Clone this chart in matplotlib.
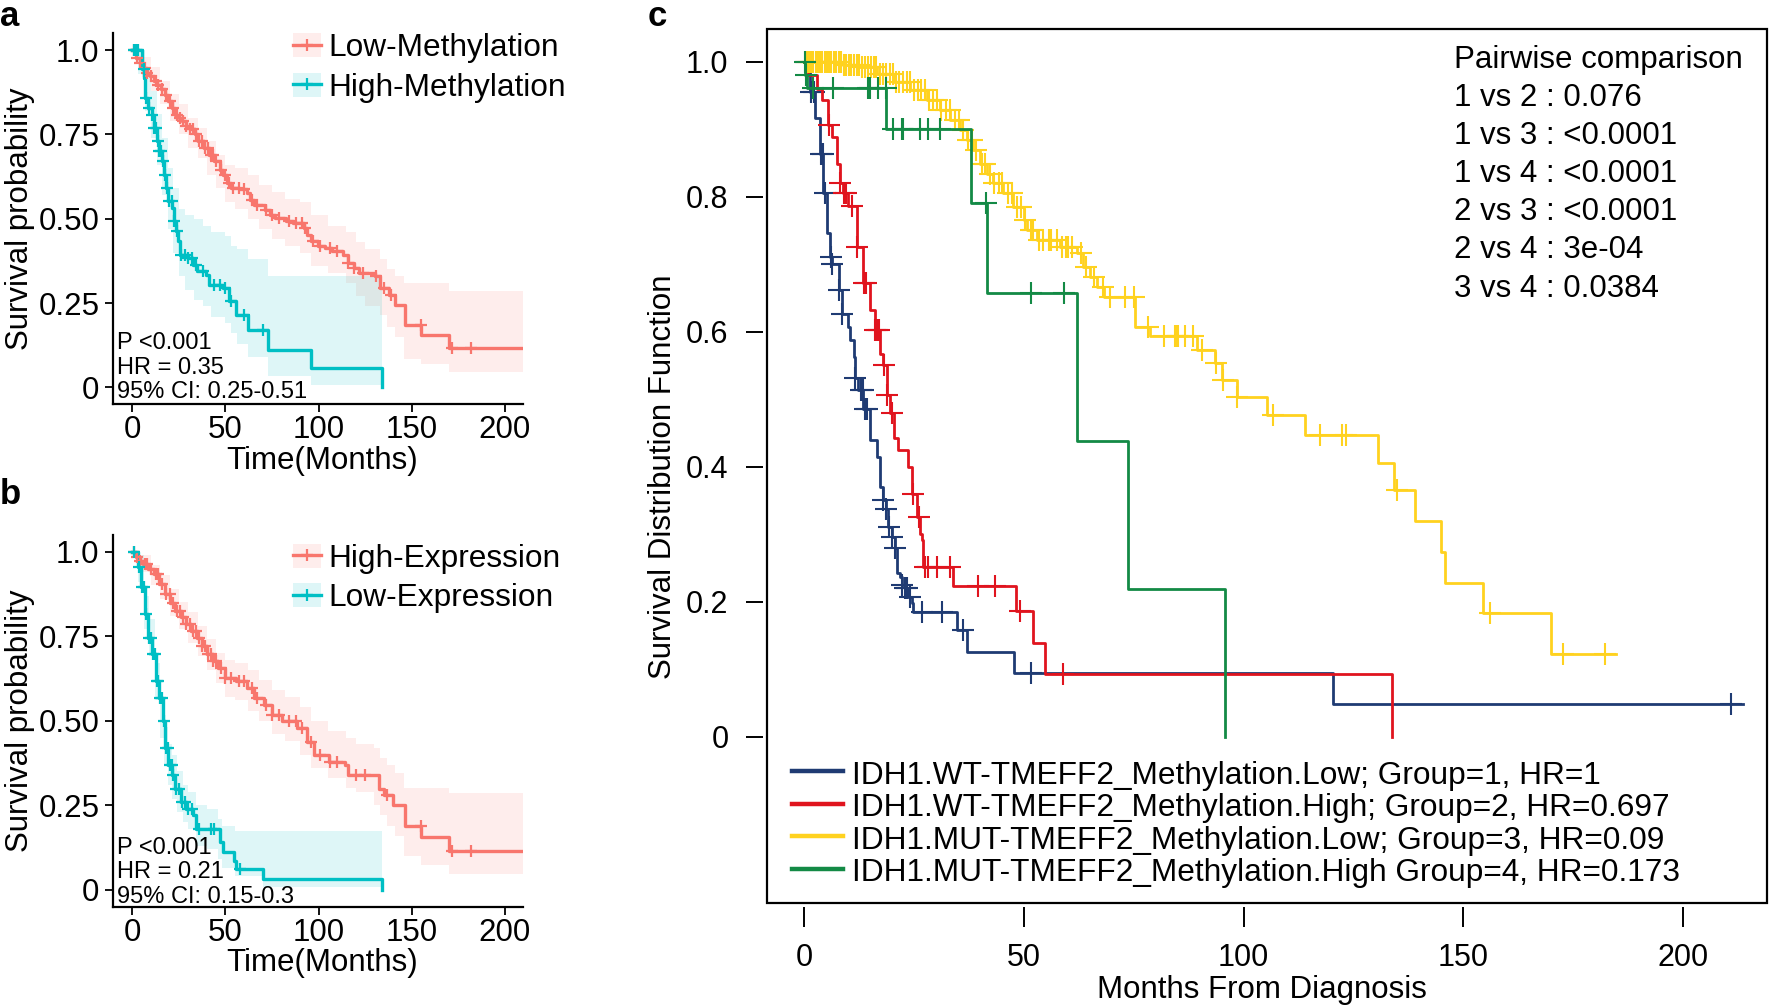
import numpy as np
import matplotlib
matplotlib.use("Agg")
import matplotlib.pyplot as plt
from matplotlib.patches import Patch, Rectangle
from matplotlib.lines import Line2D

plt.rcParams['font.family'] = ['Liberation Sans', 'DejaVu Sans']

# ---------------- data: panel a ----------------
a_labels = ["Low-Methylation", "High-Methylation"]
a_low_t = [0, 1.9, 3.8, 5.8, 7.7, 9.6, 11.5, 13.4, 15.3, 17.3, 19.2, 21.1, 23.0, 24.9, 26.8, 28.8, 30.7,
           33.6, 35.5, 38.4, 41.2, 44.1, 47.0, 48.9, 50.8, 52.7, 57.5, 61.4, 63.3, 65.2, 71.0, 73.8, 76.7,
           82.5, 86.3, 92.0, 94.0, 95.9, 99.7, 103.5, 107.4, 113.1, 116.0, 118.9, 121.8, 130.4, 133.3,
           138.1, 140.9, 146.7, 155.3, 170.3, 210]
a_low_s = [1, 0.977, 0.962, 0.948, 0.933, 0.923, 0.908, 0.898, 0.886, 0.868, 0.848, 0.828, 0.809, 0.799,
           0.789, 0.774, 0.765, 0.750, 0.730, 0.710, 0.690, 0.671, 0.646, 0.631, 0.606, 0.591, 0.587, 0.577,
           0.557, 0.542, 0.527, 0.512, 0.502, 0.493, 0.488, 0.473, 0.453, 0.433, 0.418, 0.413, 0.404, 0.394,
           0.369, 0.354, 0.339, 0.329, 0.295, 0.275, 0.245, 0.186, 0.156, 0.117, 0.117]
a_low_cens = [1, 2.5, 4, 6.5, 8, 10, 12.5, 14, 16, 18, 20, 22, 24, 25.5, 27, 29, 31, 32.5, 34, 36, 37.5,
              39, 40.5, 42, 43.5, 45, 47.5, 50, 52, 54, 57, 60, 64, 67, 72, 75, 79, 84, 88, 91, 93, 97,
              101, 106, 110, 116, 119, 124, 131, 135, 139, 155, 172, 182]
a_high_t = [0, 5.2, 6.1, 6.7, 8.6, 10.5, 11.5, 13.0, 14.4, 15.7, 16.9, 18.2, 19.2, 21.1, 22.4, 23.4, 24.5,
            25.5, 29.7, 32.6, 34.5, 39.3, 41.2, 48.9, 51.8, 55.6, 62.3, 72.9, 95.9, 134.2]
a_high_s = [1, 0.943, 0.918, 0.859, 0.829, 0.809, 0.769, 0.730, 0.700, 0.671, 0.631, 0.591, 0.552, 0.532,
            0.493, 0.463, 0.433, 0.394, 0.384, 0.364, 0.344, 0.334, 0.305, 0.295, 0.255, 0.216, 0.171,
            0.112, 0.057, 0.0]
a_high_cens = [1, 2, 3, 6, 7.5, 9, 10.5, 11.5, 12.5, 13.5, 14.5, 15.5, 16.5, 17.5, 18.5, 19.5, 21, 22.5,
               24, 26, 28, 30, 32, 34, 38, 44, 47, 50, 53, 60, 70]
a_band_low_t = [0, 5, 10, 15, 20, 25, 30, 35, 40, 45, 50, 55, 62, 68, 75, 82, 90, 96, 105, 115, 120, 125,
                133, 137, 141, 146, 155, 170, 210]
a_band_low_lo = [1.0, 0.92, 0.88, 0.84, 0.79, 0.75, 0.71, 0.68, 0.63, 0.59, 0.55, 0.53, 0.50, 0.47, 0.44,
                 0.42, 0.40, 0.36, 0.34, 0.31, 0.27, 0.24, 0.215, 0.18, 0.15, 0.085, 0.07, 0.047, 0.047]
a_band_low_hi = [1.0, 0.98, 0.95, 0.91, 0.87, 0.84, 0.80, 0.77, 0.73, 0.69, 0.66, 0.65, 0.63, 0.60, 0.58,
                 0.56, 0.55, 0.51, 0.48, 0.46, 0.43, 0.41, 0.38, 0.35, 0.33, 0.31, 0.31, 0.285, 0.285]
a_band_high_t = [0, 3, 7, 10, 13, 16, 19, 22, 25, 28, 33, 38, 42, 50, 53, 56, 62, 73, 96, 134.2]
a_band_high_lo = [1.0, 0.93, 0.82, 0.74, 0.66, 0.57, 0.47, 0.40, 0.33, 0.29, 0.26, 0.24, 0.21, 0.19,
                  0.16, 0.13, 0.09, 0.035, 0.008, 0.008]
a_band_high_hi = [1.0, 1.0, 0.93, 0.88, 0.81, 0.74, 0.65, 0.59, 0.53, 0.51, 0.50, 0.48, 0.46, 0.45,
                  0.42, 0.41, 0.38, 0.33, 0.33, 0.33]
a_stats = ["P <0.001", "HR = 0.35", "95% CI: 0.25-0.51"]

# ---------------- data: panel b ----------------
b_labels = ["High-Expression", "Low-Expression"]
b_high_t = [0, 1.9, 3.8, 5.8, 8.6, 11.5, 14.4, 17.3, 20.1, 23.0, 25.9, 28.8, 31.6, 34.5, 37.4, 40.3, 43.1,
            46.0, 49.9, 55.6, 61.4, 65.2, 70.9, 74.8, 80.5, 88.2, 94.0, 97.8, 105.5, 114.1, 116.0, 132.3,
            135.2, 140.0, 146.7, 155.3, 170.3, 210]
b_high_s = [1, 0.983, 0.973, 0.963, 0.948, 0.934, 0.904, 0.874, 0.849, 0.825, 0.805, 0.785, 0.765, 0.745,
            0.721, 0.696, 0.676, 0.656, 0.626, 0.616, 0.597, 0.567, 0.547, 0.517, 0.498, 0.478, 0.438,
            0.398, 0.379, 0.369, 0.339, 0.299, 0.279, 0.250, 0.190, 0.156, 0.116, 0.116]
b_high_cens = [1, 2.5, 4, 6.5, 8, 10, 12.5, 14, 16, 18, 20, 22, 24, 25.5, 27, 29, 31, 32.5, 34, 36, 37.5,
               39, 40.5, 42, 43.5, 45, 47.5, 50, 53, 57, 60, 64, 67, 72, 75, 79, 84, 88, 91, 96, 101,
               106, 110, 120, 125, 137, 155, 172, 182]
b_low_t = [0, 2.9, 4.8, 6.7, 8.6, 10.5, 12.5, 14.4, 16.3, 17.6, 19.2, 21.1, 23.0, 25.9, 28.8, 32.6, 34.1,
           47.0, 48.9, 54.6, 55.6, 70.0, 134.2]
b_low_s = [1, 0.953, 0.894, 0.815, 0.745, 0.696, 0.616, 0.567, 0.498, 0.418, 0.369, 0.339, 0.299, 0.260,
           0.240, 0.220, 0.180, 0.141, 0.111, 0.086, 0.061, 0.032, 0.0]
b_low_cens = [1, 3.5, 5, 6, 7.5, 9, 10, 11, 12, 13, 14, 15, 16, 17, 18, 19, 20, 21, 22, 23.5, 25, 26.5,
              28, 30, 32, 36, 42, 44, 58]
b_band_high_t = [0, 5, 10, 15, 20, 25, 30, 35, 40, 45, 50, 55, 62, 68, 75, 82, 90, 96, 105, 115, 120,
                 130, 133, 137, 141, 146, 155, 170, 210]
b_band_high_lo = [1.0, 0.94, 0.90, 0.86, 0.81, 0.77, 0.73, 0.69, 0.65, 0.61, 0.57, 0.56, 0.53, 0.50,
                  0.46, 0.44, 0.40, 0.36, 0.33, 0.30, 0.29, 0.25, 0.22, 0.19, 0.16, 0.10, 0.075, 0.047, 0.047]
b_band_high_hi = [1.0, 0.99, 0.96, 0.93, 0.89, 0.85, 0.82, 0.78, 0.74, 0.70, 0.68, 0.67, 0.65, 0.62,
                  0.59, 0.57, 0.54, 0.50, 0.47, 0.45, 0.43, 0.42, 0.39, 0.37, 0.345, 0.30, 0.30, 0.285, 0.285]
b_band_low_t = [0, 3, 6, 9, 12, 15, 17, 19, 21, 24, 27, 30, 34, 40, 46, 48, 55, 70, 134.2]
b_band_low_lo = [1.0, 0.91, 0.77, 0.69, 0.56, 0.45, 0.37, 0.31, 0.27, 0.23, 0.20, 0.18, 0.13, 0.12,
                 0.09, 0.065, 0.04, 0.008, 0.008]
b_band_low_hi = [1.0, 0.99, 0.87, 0.80, 0.67, 0.56, 0.48, 0.43, 0.40, 0.35, 0.31, 0.29, 0.25, 0.24,
                 0.21, 0.19, 0.175, 0.175, 0.175]
b_stats = ["P <0.001", "HR = 0.21", "95% CI: 0.15-0.3"]

# ---------------- data: panel c ----------------
c_labels = ["IDH1.WT-TMEFF2_Methylation.Low; Group=1, HR=1",
            "IDH1.WT-TMEFF2_Methylation.High; Group=2, HR=0.697",
            "IDH1.MUT-TMEFF2_Methylation.Low; Group=3, HR=0.09",
            "IDH1.MUT-TMEFF2_Methylation.High Group=4, HR=0.173"]
c1_t = [0, 1.3, 2.4, 3.6, 4.3, 5.1, 5.9, 6.2, 7.8, 8.5, 10.0, 10.4, 11.2, 11.5, 12.3, 13.4, 15.0, 16.5,
        17.2, 18.0, 18.6, 19.1, 19.9, 20.6, 21.0, 21.8, 22.2, 22.9, 23.7, 24.4, 24.7, 34.7, 37.0, 47.7,
        120.4, 213.7]
c1_s = [1, 0.955, 0.917, 0.864, 0.805, 0.746, 0.711, 0.701, 0.662, 0.627, 0.607, 0.588, 0.563, 0.531,
        0.514, 0.486, 0.44, 0.415, 0.37, 0.351, 0.338, 0.311, 0.296, 0.279, 0.242, 0.237, 0.225, 0.22,
        0.207, 0.198, 0.185, 0.158, 0.126, 0.095, 0.048, 0.048]
c1_cens = [1.5, 2.2, 3.8, 4.2, 4.6, 6.0, 6.3, 7.9, 8.6, 11.5, 12.8, 13.3, 13.8, 14.3, 18.0, 18.6, 19.3,
           19.9, 20.6, 22.2, 22.9, 23.4, 24.0, 26.7, 31.3, 36.2, 51.5, 211.0]
c2_t = [0, 0.9, 2.8, 4.0, 5.5, 6.2, 7.4, 8.1, 8.9, 10.0, 11.9, 13.4, 15.0, 16.1, 17.2, 18.0, 18.8, 19.5,
        20.3, 21.4, 23.7, 24.4, 25.6, 26.3, 26.7, 27.1, 33.8, 48.2, 52.0, 54.8, 133.7]
c2_s = [1, 0.98, 0.96, 0.943, 0.906, 0.889, 0.849, 0.82, 0.805, 0.787, 0.726, 0.672, 0.632, 0.602, 0.567,
        0.551, 0.506, 0.479, 0.442, 0.425, 0.40, 0.36, 0.326, 0.301, 0.291, 0.252, 0.223, 0.187, 0.139,
        0.093, 0.0]
c2_cens = [0.4, 5.6, 8.2, 9.0, 9.4, 10.8, 12.0, 13.5, 14.0, 16.2, 16.6, 17.0, 18.1, 18.9, 20.0, 24.8,
           26.1, 27.5, 28.2, 30.2, 33.2, 39.6, 43.3, 49.1, 58.8]
c3_t = [0, 8.9, 12.7, 16.5, 20.3, 24.1, 27.9, 30.9, 33.2, 35.4, 37.0, 38.5, 40.0, 41.5, 43.0, 45.3, 47.6,
        49.9, 50.6, 52.9, 58.2, 62.0, 63.5, 65.0, 66.6, 68.1, 75.3, 78.7, 89.3, 93.5, 95.0, 98.4, 105.2,
        114.0, 130.6, 134.2, 138.9, 145.0, 145.8, 154.5, 169.9, 184.8]
c3_s = [1.0, 0.995, 0.992, 0.982, 0.970, 0.958, 0.943, 0.928, 0.913, 0.899, 0.884, 0.869, 0.849, 0.834,
        0.820, 0.805, 0.785, 0.765, 0.751, 0.736, 0.726, 0.716, 0.696, 0.681, 0.667, 0.652, 0.607, 0.593,
        0.573, 0.553, 0.528, 0.504, 0.477, 0.447, 0.406, 0.365, 0.32, 0.274, 0.228, 0.183, 0.122, 0.122]
c3_cens = [0.5, 1.0, 1.5, 2.0, 2.6, 3.1, 3.5, 4.0, 4.6, 5.2, 5.7, 6.1, 6.8, 7.3, 7.9, 8.4, 9.0, 9.6,
           10.1, 10.7, 11.2, 11.9, 12.5, 13.2, 13.8, 14.5, 15.1, 15.8, 16.4, 17.2, 17.9, 18.6, 19.4, 20.1,
           20.9, 21.6, 22.4, 23.3, 24.0, 24.9, 25.8, 26.6, 27.5, 28.4, 29.4, 30.3, 31.2, 32.3, 33.1, 34.2,
           35.3, 36.1, 37.3, 38.2, 39.1, 40.4, 41.2, 42.3, 43.1, 44.2, 45.1, 46.3, 47.2, 48.5, 49.3, 50.2,
           51.5, 52.1, 53.4, 54.3, 55.6, 56.2, 57.4, 58.7, 59.5, 60.1, 61.0, 63.0, 64.2, 66.0, 68.0, 69.6,
           73.0, 75.1, 78.3, 81.9, 84.4, 84.8, 85.1, 86.6, 88.5, 90.4, 93.6, 95.4, 98.4, 106.7, 117.3,
           122.3, 123.3, 135.0, 156.0, 172.7, 182.3]
c4_t = [0, 0.1, 0.5, 18.7, 37.9, 41.5, 62.0, 73.6, 95.7]
c4_s = [1, 0.981, 0.961, 0.901, 0.790, 0.657, 0.438, 0.219, 0.0]
c4_cens = [0.05, 0.3, 2.0, 6.5, 14.4, 15.0, 16.8, 18.5, 20.1, 22.3, 22.5, 26.3, 28.2, 30.9, 41.4, 51.5, 59.0]
pairwise = ["Pairwise comparison", "1 vs 2 : 0.076", "1 vs 3 : <0.0001", "1 vs 4 : <0.0001",
            "2 vs 3 : <0.0001", "2 vs 4 : 3e-04", "3 vs 4 : 0.0384"]
c_colors = ["#1F3B73", "#E0141E", "#FFD21F", "#138A45"]

gg_red, gg_teal = "#F8766D", "#00BFC4"
band_alpha = 0.13

# ---------------- figure ----------------
W, H = 1770, 1006
fig = plt.figure(figsize=(W / 100, H / 100), dpi=100)


def fx(px):
    return px / W


def fy(py):
    return 1 - py / H


def axes_px(left, top, right, bottom):
    return fig.add_axes([fx(left), fy(bottom), (right - left) / W, (bottom - top) / H])


def surv_at(t, s, c):
    t = np.asarray(t)
    s = np.asarray(s)
    idx = np.searchsorted(t, c, side='right') - 1
    return s[np.clip(idx, 0, len(s) - 1)]


def gg_panel(top, bottom, curves, bands, labels, stats, stat_base, leg_top):
    ax = axes_px(112.9, top, 523.2, bottom)
    ax.set_xlim(-10.5, 210)
    ax.set_ylim(-0.05, 1.05)
    for (bt, lo, hi), col in zip(bands, [gg_red, gg_teal]):
        ax.fill_between(bt, lo, hi, step='post', color=col, alpha=band_alpha, lw=0, zorder=1)
    for (t, s, cens), col in zip(curves, [gg_red, gg_teal]):
        ax.step(t, s, where='post', color=col, lw=2.4, zorder=3)
        ax.plot(cens, surv_at(t, s, cens), ls='none', marker='+', ms=8, mew=1.6, color=col, zorder=4)
    for sp in ['top', 'right']:
        ax.spines[sp].set_visible(False)
    for sp in ['left', 'bottom']:
        ax.spines[sp].set_linewidth(1.6)
    ax.set_xticks([0, 50, 100, 150, 200])
    ax.set_yticks([0, 0.25, 0.5, 0.75, 1.0])
    ax.set_yticklabels(["0", "0.25", "0.50", "0.75", "1.0"])
    ax.tick_params(axis='both', length=5.8, width=1.3, labelsize=22.5, colors='black')
    ax.tick_params(axis='y', pad=4)
    ax.tick_params(axis='x', pad=2)
    ax.patch.set_alpha(0)
    handles = [(Patch(facecolor=col, alpha=band_alpha, lw=0),
                Line2D([], [], color=col, lw=2.4, marker='+', ms=8, mew=1.6)) for col in [gg_red, gg_teal]]
    ax.legend(handles, labels, loc='upper left', bbox_to_anchor=(fx(293.3), fy(leg_top)),
              bbox_transform=fig.transFigure, frameon=False, fontsize=22.8, handlelength=0.88,
              handleheight=0.79, handletextpad=0.24, labelspacing=0.3, borderpad=0, borderaxespad=0)
    for i, txt in enumerate(stats):
        fig.text(fx(117), fy(stat_base + i * 24.5), txt, fontsize=17, ha='left', va='baseline')
    fig.text(fx(19.6), fy((top + bottom) / 2), "Survival probability", rotation=90, fontsize=22.5,
             ha='center', va='center')
    return ax


gg_panel(33.3, 404.3,
         [(a_low_t, a_low_s, a_low_cens), (a_high_t, a_high_s, a_high_cens)],
         [(a_band_low_t, a_band_low_lo, a_band_low_hi), (a_band_high_t, a_band_high_lo, a_band_high_hi)],
         a_labels, a_stats, 349.3, 33)
fig.text(fx(322), fy(461), "Time(Months)", fontsize=22.5, ha='center', va='center')
fig.text(fx(0), fy(0.5), "a", fontsize=25, fontweight='bold', ha='left', va='top')

gg_panel(534.6, 906.8,
         [(b_high_t, b_high_s, b_high_cens), (b_low_t, b_low_s, b_low_cens)],
         [(b_band_high_t, b_band_high_lo, b_band_high_hi), (b_band_low_t, b_band_low_lo, b_band_low_hi)],
         b_labels, b_stats, 854, 543.5)
fig.text(fx(322), fy(963), "Time(Months)", fontsize=22.5, ha='center', va='center')
fig.text(fx(0), fy(503.5), "b", fontsize=25, fontweight='bold', ha='left', va='baseline')

# ---------------- panel c ----------------
axc = axes_px(767.4, 29.3, 1767, 903.3)
axc.set_xlim(-8.4, 219.1)
axc.set_ylim(-0.2466, 1.048)
for (t, s, cens), col in zip([(c1_t, c1_s, c1_cens), (c2_t, c2_s, c2_cens),
                              (c3_t, c3_s, c3_cens), (c4_t, c4_s, c4_cens)], c_colors):
    axc.step(t, s, where='post', color=col, lw=2.0, zorder=3)
    axc.plot(cens, surv_at(t, s, cens), ls='none', marker='+', ms=16.5, mew=1.5, color=col, zorder=3)
for sp in axc.spines.values():
    sp.set_visible(False)
axc.spines['left'].set_position(('outward', 3.5))
axc.spines['bottom'].set_position(('outward', 2.5))
axc.add_patch(Rectangle((0, 0), 1, 1, transform=axc.transAxes, fill=False, lw=1.6, ec='black',
                        clip_on=False, zorder=5))
axc.set_xticks([0, 50, 100, 150, 200])
axc.set_yticks([0, 0.2, 0.4, 0.6, 0.8, 1.0])
axc.set_yticklabels(["0", "0.2", "0.4", "0.6", "0.8", "1.0"])
axc.tick_params(axis='y', length=12.5, width=1.4, labelsize=22, pad=12)
axc.tick_params(axis='x', length=14.4, width=1.4, labelsize=22, pad=11.5)

for i, txt in enumerate(pairwise):
    fig.text(fx(1454.5), fy(68 + i * 38.1), txt, fontsize=22.5, ha='left', va='baseline')

for i, (txt, col) in enumerate(zip(c_labels, c_colors)):
    yl = 771 + i * 32.6
    fig.add_artist(Line2D([fx(791.7), fx(843.3)], [fy(yl), fy(yl)], transform=fig.transFigure,
                          color=col, lw=3.2))
    fig.text(fx(851.7), fy(784 + i * 32.4), txt, fontsize=22.8, ha='left', va='baseline')

fig.text(fx(1262), fy(997.7), "Months From Diagnosis", fontsize=22.5, ha='center', va='baseline')
fig.text(fx(663), fy(477), "Survival Distribution Function", rotation=90, fontsize=22.5,
         ha='center', va='center')
fig.text(fx(647.7), fy(0.5), "c", fontsize=25, fontweight='bold', ha='left', va='top')

fig.savefig("out.png", dpi=100)
